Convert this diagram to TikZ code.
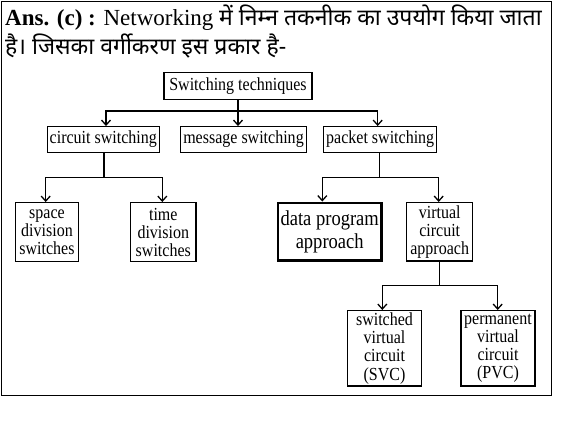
\documentclass[tikz,border=0pt]{standalone}
\usepackage{fontspec}
\setmainfont{Liberation Serif}
\newfontfamily\deva[Script=Devanagari]{Noto Sans}
\newfontfamily\boxfont[FakeStretch=0.87]{Liberation Serif}
\usetikzlibrary{arrows.meta}
\begin{document}
\begin{tikzpicture}[x=1pt,y=-1pt,
  box/.style={draw,line width=1.3pt,inner sep=0pt,align=center,
    font=\boxfont\fontsize{18.4}{18.2}\selectfont},
  thickbox/.style={box,line width=2.8pt,font=\boxfont\fontsize{21.3}{23}\selectfont},
  link/.style={line width=1.3pt},
  arr/.style={link,-{Straight Barb[length=5pt,width=9pt,line width=1.3pt]}},
  head/.style={anchor=base west,inner sep=0pt,font=\fontsize{23}{28}\selectfont}]
\useasboundingbox (0,0) rectangle (580,438);
\node[draw,line width=1.3pt,minimum width=549.5pt,minimum height=394pt,anchor=north west,inner sep=0pt] (frame) at (1,1) {};
\node[head] (h1) at (5,26)
  {\textbf{Ans. (c) :} Networking {\deva में निम्न तकनीक का उपयोग किया जाता}};
\node[head] (h2) at (5,55)
  {{\deva है। जिसका वर्गीकरण इस प्रकार है-}};
% boxes
\node[box,minimum width=148pt,minimum height=27pt] (top) at (238,85.8) {Switching techniques};
\node[box,minimum width=112pt,minimum height=25.6pt] (circ) at (103.3,139.5) {circuit switching};
\node[box,minimum width=126.4pt,minimum height=25.6pt] (msg) at (243.5,139.5) {message switching};
\node[box,minimum width=113pt,minimum height=25.6pt] (pkt) at (380.2,139.5) {packet switching};
\node[box,minimum width=62.6pt,minimum height=59pt] (space) at (47,232.2) {space\\division\\switches};
\node[box,minimum width=65.3pt,minimum height=59pt] (time) at (163.3,232.2) {time\\division\\switches};
\node[thickbox,minimum width=103.5pt,minimum height=57.5pt] (data) at (329.7,231.7) {data program\\approach};
\node[box,minimum width=66pt,minimum height=58.3pt] (virt) at (439.7,231.8) {virtual\\circuit\\approach};
\node[box,minimum width=74.4pt,minimum height=75.3pt] (svc) at (384.5,348.3) {switched\\virtual\\circuit\\(SVC)};
\node[box,minimum width=74pt,minimum height=75.3pt] (pvc) at (498,348.3) {permanent\\virtual\\circuit\\(PVC)};
% junctions
\coordinate (j0) at (238,111);
\coordinate (j1) at (104,177.3);
\coordinate (j2) at (379.3,177.3);
\coordinate (j3) at (439.3,285.7);
% connectors
\draw[link] (top.south) -- (j0);
\draw[arr] (j0) -| ([xshift=2.7pt]circ.north);
\draw[arr] (j0) -- (j0 |- msg.north);
\draw[arr] (j0) -| ([xshift=-2.5pt]pkt.north);
\draw[link] (circ.south -| j1) -- (j1);
\draw[arr] (j1) -| ([xshift=-1.3pt]space.north);
\draw[arr] (j1) -| ([xshift=-1pt]time.north);
\draw[link] (pkt.south -| j2) -- (j2);
\draw[arr] (j2) -| ([xshift=-7.4pt]data.north);
\draw[arr] (j2) -| ([xshift=-1pt]virt.north);
\draw[link] (virt.south -| j3) -- (j3);
\draw[arr] (j3) -| ([xshift=-2.2pt]svc.north);
\draw[arr] (j3) -| ([xshift=-0.3pt]pvc.north);
\end{tikzpicture}
\end{document}
